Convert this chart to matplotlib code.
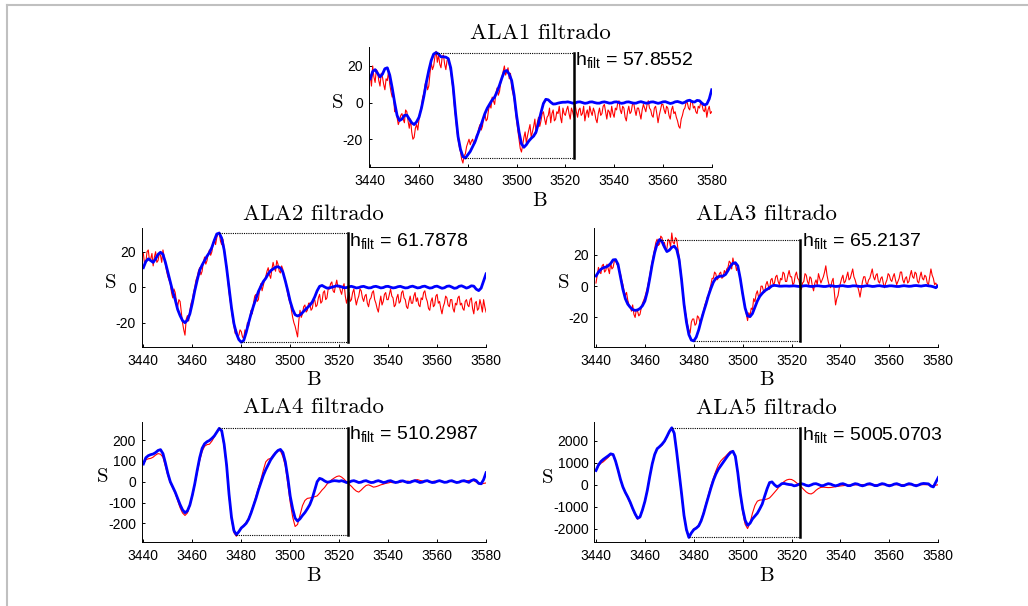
import numpy as np
import matplotlib.pyplot as plt
from matplotlib.lines import Line2D
from matplotlib.transforms import blended_transform_factory

plt.rcParams['axes.unicode_minus'] = False
plt.rcParams['mathtext.default'] = 'regular'

# magnetic field axes: 1 G steps for filtered curves, 0.5 G for the noisy spectra
B = np.arange(3440, 3581)
B_half = np.arange(3440, 3580.5, 0.5)

titles = ['ALA1 filtrado', 'ALA2 filtrado', 'ALA3 filtrado', 'ALA4 filtrado', 'ALA5 filtrado']
h_filt = [57.8552, 61.7878, 65.2137, 510.2987, 5005.0703]
x_ticks = [3440, 3460, 3480, 3500, 3520, 3540, 3560, 3580]
y_ticks = [[-20, 0, 20], [-20, 0, 20], [-20, 0, 20],
           [-200, -100, 0, 100, 200], [-2000, -1000, 0, 1000, 2000]]
y_limits = [(-35, 30.2), (-33.5, 33.2), (-38.7, 37), (-288, 288), (-2600, 2850)]
B_cut = 3523.5

# ---- ALA1 ---- (red at 0.5 G)
ala1_red = [15, 9, 20, 14, 11, 18, 17, 12, 9, 16, 14, 10, 7, 13, 12, 17, 10, 6, 3, 5,
            -5, -3, -8, -12, -10, -7, -6, -9, -11, -4, -5, -10, -14, -9, -16, -20, -19, -14, -12, -15,
            -9, -5, -2, 3, 5, 10, 12, 7, 9, 16, 22, 18, 20, 25, 28, 22, 26, 21, 19, 25,
            26, 21, 18, 23, 24, 20, 17, 12, 6, -2, -8, -15, -20, -24, -27, -31, -33, -29, -28, -24,
            -22, -20, -23, -21, -20, -23, -22, -18, -17, -14, -12, -15, -13, -8, -6, -10, -9, -4, -1, -3,
            3, 1, -1, 5, 8, 4, 6, 11, 14, 17, 20, 15, 17, 19, 13, 16, 8, 5, 2, -4,
            -10, -15, -20, -25, -27, -23, -19, -16, -22, -18, -15, -12, -19, -16, -13, -9, -17, -11, -8, -13,
            -10, -6, -5, -9, -12, -8, -7, -3, -11, -6, -4, -10, -9, -5, -6, -2, -8, -11, -3, -6,
            -7, -4, -2, -6, -9, -3, -5, -8, -1, -5, -8, -4, -3, -7, -6, -2, -10, -6, -4, -8,
            -2, -5, -7, -3, -5, -9, -11, -6, -3, -7, -6, -2, -1, -5, -9, -4, -5, -8, -2, -6,
            -8, -3, -4, 0, 1, -4, -6, -2, -3, -8, -10, -5, -2, -6, -5, -1, 0, -4, -7, -3,
            -3, -6, -9, -4, -1, -3, -5, -1, 1, -3, -4, -7, -8, -3, -2, -6, -11, -7, -4, -1,
            -1, -4, -6, -2, -3, -7, -9, -4, -2, -6, -5, -8, -10, -13, -14, -9, -7, -4, -3, 0,
            0, -3, -4, 1, 1, -3, -2, -5, -6, -2, -3, 0, -1, -4, -5, -2, -8, -4, -2, -6,
            -5]
ala1_blue = [13, 17, 18, 16, 14, 15.5, 18.5, 19, 15, 8,
             0, -7, -9.8, -9, -7, -6.8, -9, -11, -12, -10.5,
             -8, -3, 3.5, 11, 17.5, 23, 26.5, 27.3, 26.5, 25,
             25, 24.8, 24, 19, 8.5, -6, -18.5, -25.5, -29.5, -30.3,
             -28.5, -26.7, -24, -21.3, -17.5, -14, -10, -6, -3, -0.8,
             1.5, 3, 6, 9.5, 13.5, 17, 17.5, 15.5, 12, 4,
             -7, -16, -22.5, -24.4, -23, -21, -19.5, -18.3, -16, -11,
             -5.5, -0.5, 1.8, 1.5, 0.2, -0.8, -0.7, -0.3, 0, 0.2,
             0.2, 0.4, 0.1, -0.3, -0.2, 0.3, 0.4, 0, -0.4, -0.2,
             0.3, 0.4, 0, -0.3, -0.3, 0.2, 0.4, 0.1, -0.3, -0.2,
             0.3, 0.4, 0, -0.4, -0.2, 0.3, 0.4, 0, -0.3, -0.3,
             0.2, 0.5, 0.1, -0.3, -0.2, 0.3, 0.4, 0, -0.4, -0.1,
             0.4, 0.5, 0, -0.5, -0.2, 0.4, 0.6, 0.2, -0.3, 0.2,
             1.0, 1.3, 0.5, 0.3, 1.2, 1.0, -0.3, -1.3, -0.8, 2,
             7]

# ---- ALA2 ---- (red at 0.5 G)
ala2_red = [19, 13, 14, 20, 21, 15, 16, 19, 12, 17, 20, 14, 15, 19, 18, 14, 21, 17, 13, 9,
            6, 4, 2, -3, -6, -1, -3, -8, -11, -7, -8, -14, -20, -24, -27, -18, -16, -19, -13, -9,
            -7, -3, 0, 4, 6, 9, 11, 7, 9, 14, 17, 13, 15, 19, 21, 18, 20, 25, 27, 24,
            28, 30, 31, 26, 24, 27, 22, 16, 12, 4, -3, -8, -13, -18, -22, -26, -24, -28, -27, -24,
            -25, -28, -29, -24, -26, -20, -22, -17, -13, -15, -9, -5, -4, -8, -7, -1, 2, -2, 1, 4,
            6, 9, 11, 7, 5, 10, 14, 11, 9, 15, 13, 9, 8, 12, 10, 6, 4, 0, -4, -7,
            -9, -13, -17, -20, -22, -25, -28, -19, -13, -17, -15, -11, -10, -14, -13, -9, -9, -13, -12, -8,
            -7, -11, -10, -6, -4, -9, -8, -3, -2, -7, -6, -1, -1, 2, 3, -2, -3, 1, 4, 0,
            1, -2, -4, 0, 2, -5, -9, -6, -3, -8, -7, -3, -1, -6, -10, -7, -5, -1, -2, -6,
            -8, -5, -4, -9, -11, -7, -6, -3, -2, -7, -9, -12, -14, -9, -5, -10, -8, -4, -3, -7,
            -7, -4, -1, -5, -6, -11, -10, -6, -4, -9, -8, -3, -2, -6, -7, -11, -12, -8, -5, -9,
            -9, -5, -3, -8, -6, -10, -11, -6, -7, -3, -2, -6, -8, -12, -13, -8, -6, -11, -10, -5,
            -4, -9, -8, -12, -15, -11, -9, -5, -6, -10, -11, -7, -7, -12, -14, -9, -10, -6, -5, -10,
            -9, -12, -13, -8, -7, -10, -11, -7, -6, -12, -15, -9, -8, -13, -12, -7, -10, -14, -7, -11,
            -14]
ala2_blue = [11, 14.5, 16, 15, 14, 16, 18.5, 19.7, 18.5, 14,
             8.5, 3, -2.5, -7, -12.5, -16, -18.8, -20, -18.5, -15,
             -9, -2, 4, 9.5, 12.5, 15, 17.5, 19.5, 22.5, 26.5,
             30, 30.5, 27.6, 21, 11, 0, -11.5, -20.5, -26, -29.5,
             -31, -30, -25.5, -20, -15, -10.5, -6.5, -2.4, 0.5, 3.2,
             5, 7.5, 9.3, 10.3, 11.2, 11.6, 10.8, 8.5, 3.5, -2,
             -8, -12.5, -15.5, -16.2, -15.6, -14.3, -12.8, -11.5, -10.2, -8.3,
             -5.5, -2, 0.5, 1, 0.2, -0.5, -0.4, 0, 0.4, 0.8,
             0.6, 0.2, -0.3, -0.2, 0.3, 0.5, 0.1, -0.4, -0.2, 0.3,
             0.5, 0, -0.4, -0.3, 0.3, 0.5, 0.1, -0.4, -0.2, 0.4,
             0.5, 0, -0.4, -0.2, 0.3, 0.5, 0, -0.4, -0.3, 0.3,
             0.6, 0.1, -0.4, -0.2, 0.4, 0.6, 0, -0.5, -0.3, 0.4,
             0.6, 0, -0.6, -0.3, 0.5, 0.7, 0.1, -0.6, -0.4, 0.5,
             0.8, 0.2, -0.5, 0, 0.8, 0.6, -1.1, -1.9, -0.5, 3.5,
             7.5]

# ---- ALA3 ---- (red at 0.5 G)
ala3_red = [2, 7, 12, 9, 8, 13, 14, 9, 10, 14, 11, 8, 15, 11, 12, 16, 17, 14, 13, 10,
            8, 4, 1, -3, -6, -4, -9, -12, -13, -16, -12, -18, -20, -15, -16, -19, -18, -14, -11, -9,
            -7, -4, -1, 3, 7, 12, 16, 20, 24, 28, 30, 26, 27, 32, 31, 26, 28, 23, 24, 30,
            29, 25, 34, 28, 27, 31, 30, 24, 19, 12, 5, -3, -10, -16, -20, -25, -28, -30, -23, -21,
            -21, -25, -24, -19, -20, -23, -22, -18, -16, -12, -10, -7, -6, -2, 1, 5, 5, 9, 8, 4,
            5, 8, 9, 5, 6, 10, 8, 11, 12, 16, 15, 11, 18, 14, 14, 10, 13, 9, 6, 0,
            -6, -10, -14, -18, -22, -17, -19, -14, -15, -8, -10, -5, -3, -7, -6, 0, 0, -3, -4, 1,
            3, 0, -2, 4, 5, 1, 2, 6, 7, 3, 1, 5, 4, 9, 8, 3, 3, 7, 10, 6,
            6, 1, 2, 7, 9, 5, 4, 0, -2, 2, 3, 8, 7, 3, 1, 6, 5, 0, -3, 2,
            4, 1, 8, 5, 2, 4, 6, 9, 13, 7, 3, 0, -1, 3, 5, -4, -12, -8, -6, -1,
            2, 5, 7, 2, 3, 6, 9, 4, 5, 8, 11, 6, 4, 1, 0, -3, -7, -2, 3, 6,
            6, 2, 1, 4, 5, 8, 11, 6, 4, 7, 8, 3, 2, 5, 6, 2, -1, 2, 4, 8,
            7, 4, 3, 6, 8, 4, 1, 3, 5, 9, 9, 4, 2, 5, 6, 2, 3, 7, 10, 6,
            5, 9, 8, 3, 2, 6, 9, 5, 4, 7, 6, 2, 1, 6, 11, 7, 5, 1, 2, 0,
            0]
ala3_blue = [6.5, 9, 10.8, 11.8, 12.2, 13, 14.5, 16.8, 17, 14,
             6, -2, -8, -11.5, -13.5, -15, -15.5, -15.2, -14.3, -12.5,
             -9.5, -3.5, 5, 14, 21.5, 27, 29.8, 28.5, 25, 22.1,
             23, 24.8, 25.6, 23.5, 17, 4, -11.5, -23, -31, -34.5,
             -35, -32.6, -28, -22, -16.5, -11.5, -6, -1.5, 2.5, 5,
             6, 6.4, 6.5, 7.5, 10, 12.8, 14.6, 15, 13, 5,
             -5, -14, -19, -19.5, -17.5, -13.5, -9.5, -6.5, -4.6, -3,
             -2, -1, 0.2, 0.5, 0.3, 0, 0, 0.1, 0.1, 0,
             0.1, 0.2, 0, -0.2, -0.1, 0.2, 0.3, 0, -0.2, -0.1,
             0.2, 0.2, 0, -0.2, -0.2, 0.1, 0.3, 0.1, -0.2, -0.1,
             0.2, 0.3, 0, -0.2, -0.1, 0.2, 0.2, 0, -0.2, -0.2,
             0.1, 0.3, 0.1, -0.2, -0.1, 0.2, 0.3, 0, -0.2, -0.1,
             0.2, 0.2, 0, -0.2, -0.2, 0.1, 0.3, 0.1, -0.1, 0,
             0.3, 0.4, 0.2, 0, 0.3, 0.5, 0.2, 0, -0.4, -1.0,
             0.4]

# ---- ALA4 ---- (1 G)
ala4_red = [95, 105, 110, 112, 118, 128, 135, 132, 118, 75,
            30, -5, -30, -55, -90, -125, -150, -162, -150, -115,
            -70, -15, 45, 100, 145, 170, 178, 180, 195, 215,
            240, 258, 238, 170, 70, -70, -180, -245, -262, -240,
            -220, -210, -195, -175, -145, -110, -70, -30, 10, 55,
            95, 108, 112, 128, 140, 150, 148, 120, 75, -10,
            -100, -170, -215, -205, -160, -115, -90, -80, -78, -75,
            -72, -68, -55, -40, -28, -12, 0, 10, 18, 25,
            28, 22, 12, 0, -12, -22, -35, -45, -50, -40,
            -28, -18, -15, -20, -26, -24, -20, -15, -12, -8,
            -6, -3, -5, -2, 0, -3, 2, -1, 3, 1,
            5, 8, 10, 6, 4, 0, 2, -2, 1, 3,
            0, 4, 2, -1, 1, 3, 0, 2, -2, 1,
            3, 0, 4, 6, 8, 5, -2, -10, -12, -8,
            -6]
ala4_blue = [85, 115, 125, 130, 133, 140, 150, 154, 135, 90,
             40, 0, -25, -50, -80, -110, -135, -149, -140, -112,
             -65, -10, 55, 115, 160, 182, 192, 198, 208, 220,
             238, 256, 245, 180, 80, -60, -170, -235, -254, -240,
             -222, -212, -200, -180, -150, -115, -80, -40, -5, 30,
             58, 82, 105, 122, 138, 150, 155, 140, 95, 20,
             -70, -130, -175, -189, -178, -162, -148, -130, -110, -80,
             -40, 0, 16, 12, 4, -2, -1, 3, 5, 4,
             2, 5, 1, -4, -3, 3, 5, 1, -4, -2,
             3, 5, 0, -4, -3, 2, 5, 1, -4, -2,
             3, 5, 0, -4, -2, 3, 4, 0, -4, -3,
             2, 5, 1, -4, -2, 3, 5, 0, -4, -3,
             2, 5, 1, -3, -2, 3, 5, 0, -4, -2,
             3, 5, 1, -3, 5, 10, 5, -8, -10, 10,
             43]

# ---- ALA5 ---- (1 G)
ala5_red = [700, 860, 980, 1050, 1150, 1250, 1380, 1350, 1050, 650,
            220, -120, -380, -600, -850, -1120, -1380, -1570, -1490, -1150,
            -750, -230, 400, 980, 1400, 1680, 1720, 1800, 1960, 2180,
            2420, 2610, 2370, 1520, 520, -450, -1450, -2100, -2420, -2200,
            -2020, -1950, -1850, -1600, -1250, -850, -450, -50, 300, 620,
            900, 1080, 1200, 1300, 1420, 1530, 1520, 1250, 500, -450,
            -1250, -1800, -2000, -1750, -1300, -950, -750, -700, -690, -680,
            -650, -600, -480, -350, -220, -80, 50, 150, 220, 250,
            240, 180, 90, 0, -100, -220, -330, -400, -420, -360,
            -250, -170, -120, -110, -120, -130, -125, -110, -90, -70,
            -55, -40, -30, -20, -15, -10, -5, 0, 5, 5,
            5, 0, -5, 0, 5, 0, -5, 0, 5, 0,
            -5, 0, 5, 0, -5, 0, 5, 0, -5, 0,
            5, 0, -5, 0, 5, 0, 0, -30, -40, -20,
            0]
ala5_blue = [650, 900, 1060, 1160, 1240, 1320, 1410, 1380, 1080, 680,
             250, -100, -350, -560, -800, -1080, -1330, -1530, -1470, -1150,
             -760, -250, 380, 950, 1380, 1640, 1740, 1850, 1990, 2200,
             2430, 2600, 2350, 1500, 550, -400, -1400, -2050, -2405, -2200,
             -2050, -1980, -1880, -1650, -1320, -920, -540, -150, 200, 480,
             700, 860, 1020, 1180, 1340, 1470, 1530, 1300, 550, -380,
             -1100, -1620, -1850, -1760, -1560, -1430, -1300, -1100, -880, -520,
             -180, 100, 130, 0, -90, -40, 50, 60, 30, 10,
             0, -50, -30, 20, 50, 20, -30, -50, -10, 40,
             50, 10, -40, -40, 10, 50, 30, -20, -50, -20,
             30, 50, 10, -40, -40, 10, 50, 30, -20, -50,
             -20, 30, 50, 10, -40, -40, 10, 50, 30, -20,
             -50, -20, 30, 50, 10, -40, -40, 10, 50, 30,
             -20, -50, -10, 40, 60, 50, 40, -60, -100, 120,
             330]

reds = [ala1_red, ala2_red, ala3_red, ala4_red, ala5_red]
red_x = [B_half, B_half, B_half, B, B]
blues = [ala1_blue, ala2_blue, ala3_blue, ala4_blue, ala5_blue]

# axes positions [left, bottom, width, height] in figure fraction
positions = [[0.3585, 0.7249, 0.3338, 0.1971],
             [0.1378, 0.4279, 0.3350, 0.1954],
             [0.5781, 0.4279, 0.3346, 0.1954],
             [0.1378, 0.1061, 0.3350, 0.1980],
             [0.5781, 0.1061, 0.3346, 0.1970]]
ylabel_x = [-0.089, -0.089, -0.088, -0.113, -0.137]

fig = plt.figure(figsize=(10.28, 6.06), dpi=100)

# light gray frame on top/left edges
fig.add_artist(Line2D([0.0065, 1.0], [1 - 5 / 606, 1 - 5 / 606], color='#c0c0c0', lw=1.5))
fig.add_artist(Line2D([0.0065, 0.0065], [0.0, 1 - 5 / 606], color='#c0c0c0', lw=1.5))

for i in range(5):
    ax = fig.add_axes(positions[i])
    blue = np.array(blues[i])
    ax.plot(red_x[i], reds[i], color='red', lw=0.8)
    ax.plot(B, blue, color='blue', lw=2.0)

    # peak-to-peak box
    i_max = np.argmax(blue)
    i_min = np.argmin(blue)
    ax.plot([B[i_max], B_cut], [blue[i_max]] * 2, color='k', ls=(0, (1, 1)), lw=0.8)
    ax.plot([B[i_min], B_cut], [blue[i_min]] * 2, color='k', ls=(0, (1, 1)), lw=0.8)
    ax.plot([B_cut, B_cut], [blue[i_min], blue[i_max]], color='k', lw=1.8)

    trans = blended_transform_factory(ax.transData, ax.transAxes)
    ax.text(B_cut + 0.6, 0.852, r'h$_{\mathregular{filt}}$ = ' + f'{h_filt[i]:.4f}',
            transform=trans, fontsize=14, family='Liberation Sans', va='baseline', ha='left')

    ax.set_xlim(3439.3, 3580)
    ax.set_ylim(*y_limits[i])
    ax.set_xticks(x_ticks)
    ax.set_yticks(y_ticks[i])
    ax.tick_params(direction='in', length=2.5, width=0.7, labelsize=10)
    ax.tick_params(axis='x', pad=5)
    ax.tick_params(axis='y', pad=4)
    for lab in ax.get_xticklabels() + ax.get_yticklabels():
        lab.set_family('Liberation Sans')
    for side in ['top', 'right']:
        ax.spines[side].set_visible(False)
    for side in ['left', 'bottom']:
        ax.spines[side].set_linewidth(0.7)

    ax.set_title(titles[i], family='cmr10', fontsize=16.5, pad=6)
    ax.set_xlabel('B', family='cmr10', fontsize=15, va='top')
    ax.set_ylabel('S', family='cmr10', fontsize=15, rotation=0, va='center', ha='center')
    ax.xaxis.set_label_coords(0.5, -0.21)
    ax.yaxis.set_label_coords(ylabel_x[i], 0.535)

fig.savefig('out.png', dpi=100)
